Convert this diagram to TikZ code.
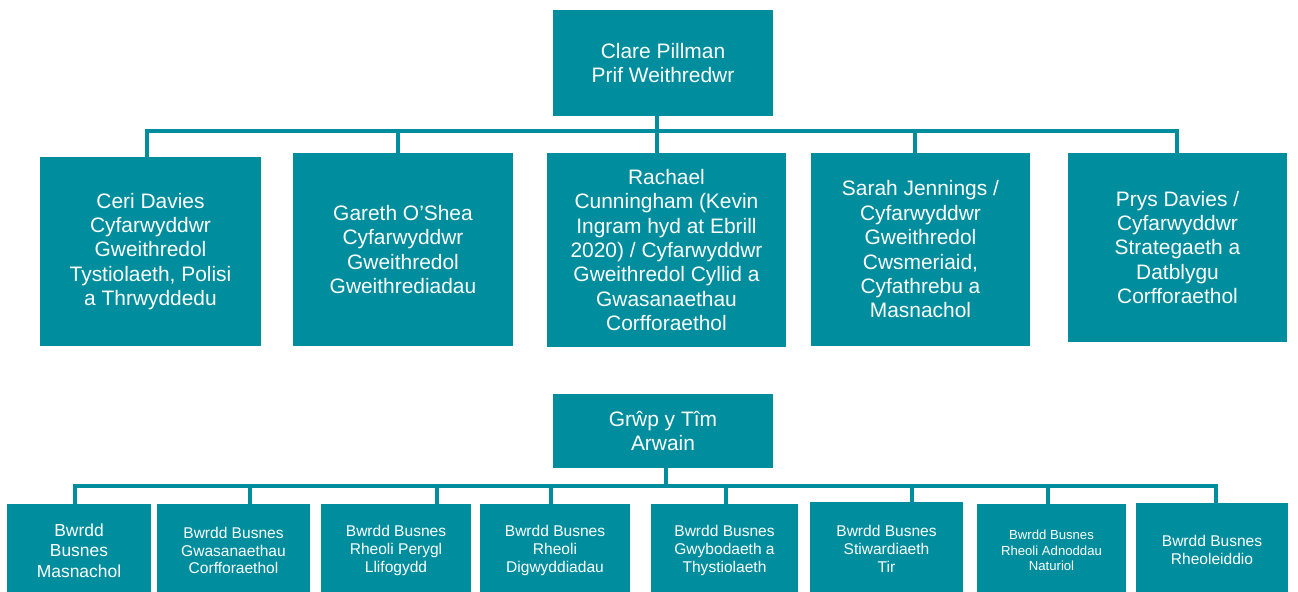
\documentclass[tikz,border=0pt]{standalone}
\usepackage{fontspec}
\setmainfont{Liberation Sans}
\definecolor{tealbox}{RGB}{0,142,158}
\newcommand\fsBig{\fontsize{21}{24.5}\selectfont}
\newcommand\fsMid{\fontsize{17.5}{20.5}\selectfont}
\newcommand\fsSmall{\fontsize{15.6}{18}\selectfont}
\newcommand\fsTiny{\fontsize{13.2}{15.5}\selectfont}
\begin{document}
\begin{tikzpicture}[x=1bp,y=-1bp,
  box/.style={fill=tealbox, text=white, align=center, inner sep=0pt, draw=none},
  conn/.style={draw=tealbox, line width=4.5bp, line join=miter}]
\useasboundingbox (0,0) rectangle (1298,592);
% top level
\node[box, font=\fsBig, minimum width=220bp, minimum height=106bp] (top) at (663,63) {Clare Pillman\\Prif Weithredwr};
\node[box, font=\fsBig, minimum width=221bp, minimum height=189bp] (ceri) at (150.5,251.5) {Ceri Davies\\Cyfarwyddwr\\Gweithredol\\Tystiolaeth, Polisi\\a Thrwyddedu};
\node[box, font=\fsBig, minimum width=220bp, minimum height=193bp] (gareth) at (403,249.5) {Gareth O’Shea\\Cyfarwyddwr\\Gweithredol\\Gweithrediadau};
\node[box, font=\fsBig, minimum width=239bp, minimum height=194bp] (rachael) at (666.5,250) {Rachael\\Cunningham (Kevin\\Ingram hyd at Ebrill\\2020) / Cyfarwyddwr\\Gweithredol Cyllid a\\Gwasanaethau\\Corfforaethol};
\node[box, font=\fsBig, minimum width=219bp, minimum height=193bp] (sarah) at (920.5,249.5) {Sarah Jennings /\\Cyfarwyddwr\\Gweithredol\\Cwsmeriaid,\\Cyfathrebu a\\Masnachol};
\node[box, font=\fsBig, minimum width=219bp, minimum height=189bp] (prys) at (1177.5,247.5) {Prys Davies /\\Cyfarwyddwr\\Strategaeth a\\Datblygu\\Corfforaethol};
\coordinate (t1) at (147,131);
\coordinate (t2) at (398,131);
\coordinate (t3) at (657,131);
\coordinate (t4) at (915,131);
\coordinate (t5) at (1177,131);
\draw[conn] (t1 |- ceri.north) -- (t1) -- (t5) -- (t5 |- prys.north);
\draw[conn] (top.south -| t3) -- (t3 |- rachael.north);
\draw[conn] (t2) -- (t2 |- gareth.north);
\draw[conn] (t4) -- (t4 |- sarah.north);
% second chart
\node[box, font=\fsBig, minimum width=220bp, minimum height=74bp] (grwp) at (663,431) {Grŵp y Tîm\\Arwain};
\node[box, font=\fsMid, minimum width=144bp, minimum height=93bp] (b1) at (79,550.5) {Bwrdd\\Busnes\\Masnachol};
\node[box, font=\fsSmall, minimum width=153bp, minimum height=93bp] (b2) at (233.5,550.5) {Bwrdd Busnes\\Gwasanaethau\\Corfforaethol};
\node[box, font=\fsSmall, minimum width=150bp, minimum height=93bp] (b3) at (396,550.5) {Bwrdd Busnes\\Rheoli Perygl\\Llifogydd};
\node[box, font=\fsSmall, minimum width=150bp, minimum height=93bp] (b4) at (555,550.5) {Bwrdd Busnes\\Rheoli\\Digwyddiadau};
\node[box, font=\fsSmall, minimum width=147bp, minimum height=93bp] (b5) at (724.5,550.5) {Bwrdd Busnes\\Gwybodaeth a\\Thystiolaeth};
\node[box, font=\fsSmall, minimum width=153bp, minimum height=93bp] (b6) at (886.5,548.5) {Bwrdd Busnes\\Stiwardiaeth\\Tir};
\node[box, font=\fsTiny, minimum width=149bp, minimum height=93bp] (b7) at (1051.5,550.5) {Bwrdd Busnes\\Rheoli Adnoddau\\Naturiol};
\node[box, font=\fsSmall, minimum width=152bp, minimum height=93bp] (b8) at (1212,549.5) {Bwrdd Busnes\\Rheoleiddio};
\coordinate (c1) at (75,486);
\coordinate (c2) at (250,486);
\coordinate (c3) at (437,486);
\coordinate (c4) at (551,486);
\coordinate (c5) at (726,486);
\coordinate (c6) at (912,486);
\coordinate (c7) at (1048,486);
\coordinate (c8) at (1216,486);
\coordinate (ct) at (666,486);
\draw[conn] (c1 |- b1.north) -- (c1) -- (c8) -- (c8 |- b8.north);
\draw[conn] (grwp.south -| ct) -- (ct);
\foreach \i in {2,...,7} {\draw[conn] (c\i) -- (c\i |- b\i.north);}
\end{tikzpicture}
\end{document}
